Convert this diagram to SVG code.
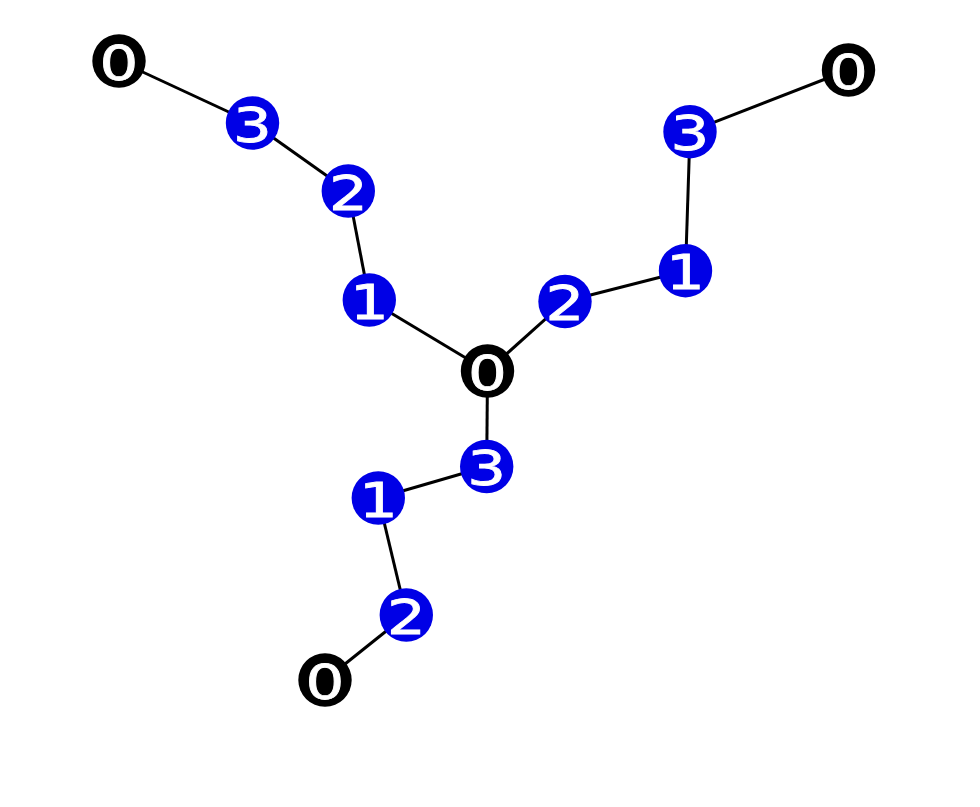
<svg xmlns="http://www.w3.org/2000/svg" width="980" height="807" viewBox="0 0 980 807">
<style>
.e{stroke:#000;stroke-width:3;fill:none}
.b{fill:#0000e6}
.k{fill:#000}
.t{fill:#fff;stroke:#fff;stroke-width:0.8;font-family:"DejaVu Sans",sans-serif;font-size:48px;text-anchor:middle}
</style>
<rect width="980" height="807" fill="#fff"/>
<g id="edges">
<line class="e" x1="119" y1="61" x2="252.5" y2="123"/>
<line class="e" x1="252.5" y1="123" x2="348.3" y2="191"/>
<line class="e" x1="348.3" y1="191" x2="369.3" y2="300"/>
<line class="e" x1="369.3" y1="300" x2="487.5" y2="371"/>
<line class="e" x1="487.5" y1="371" x2="565" y2="301.5"/>
<line class="e" x1="565" y1="301.5" x2="685.5" y2="270.7"/>
<line class="e" x1="685.5" y1="270.7" x2="690" y2="131.7"/>
<line class="e" x1="690" y1="131.7" x2="848.5" y2="70"/>
<line class="e" x1="487.5" y1="371" x2="486.7" y2="466.5"/>
<line class="e" x1="486.7" y1="466.5" x2="378.3" y2="498"/>
<line class="e" x1="378.3" y1="498" x2="406.3" y2="615"/>
<line class="e" x1="406.3" y1="615" x2="325" y2="680"/>
</g>
<g id="n1"><circle class="k" cx="119" cy="61" r="26.7"/><text class="t" transform="translate(119 79.5) scale(1.27 1)">0</text></g>
<g id="n2"><circle class="b" cx="252.5" cy="123" r="26.7"/><text class="t" transform="translate(252.5 141.5) scale(1.27 1)">3</text></g>
<g id="n3"><circle class="b" cx="348.3" cy="191" r="26.7"/><text class="t" transform="translate(348.3 209.5) scale(1.27 1)">2</text></g>
<g id="n4"><circle class="b" cx="369.3" cy="300" r="26.7"/><text class="t" transform="translate(369.3 318.5) scale(1.27 1)">1</text></g>
<g id="n5"><circle class="k" cx="487.5" cy="371" r="26.7"/><text class="t" transform="translate(487.5 389.5) scale(1.27 1)">0</text></g>
<g id="n6"><circle class="b" cx="565" cy="301.5" r="26.7"/><text class="t" transform="translate(565 320) scale(1.27 1)">2</text></g>
<g id="n7"><circle class="b" cx="685.5" cy="270.7" r="26.7"/><text class="t" transform="translate(685.5 289.2) scale(1.27 1)">1</text></g>
<g id="n8"><circle class="b" cx="690" cy="131.7" r="26.7"/><text class="t" transform="translate(690 150.2) scale(1.27 1)">3</text></g>
<g id="n9"><circle class="k" cx="848.5" cy="70" r="26.7"/><text class="t" transform="translate(848.5 88.5) scale(1.27 1)">0</text></g>
<g id="n10"><circle class="b" cx="486.7" cy="466.5" r="26.7"/><text class="t" transform="translate(486.7 485) scale(1.27 1)">3</text></g>
<g id="n11"><circle class="b" cx="378.3" cy="498" r="26.7"/><text class="t" transform="translate(378.3 516.5) scale(1.27 1)">1</text></g>
<g id="n12"><circle class="b" cx="406.3" cy="615" r="26.7"/><text class="t" transform="translate(406.3 633.5) scale(1.27 1)">2</text></g>
<g id="n13"><circle class="k" cx="325" cy="680" r="26.7"/><text class="t" transform="translate(325 698.5) scale(1.27 1)">0</text></g>
</svg>
